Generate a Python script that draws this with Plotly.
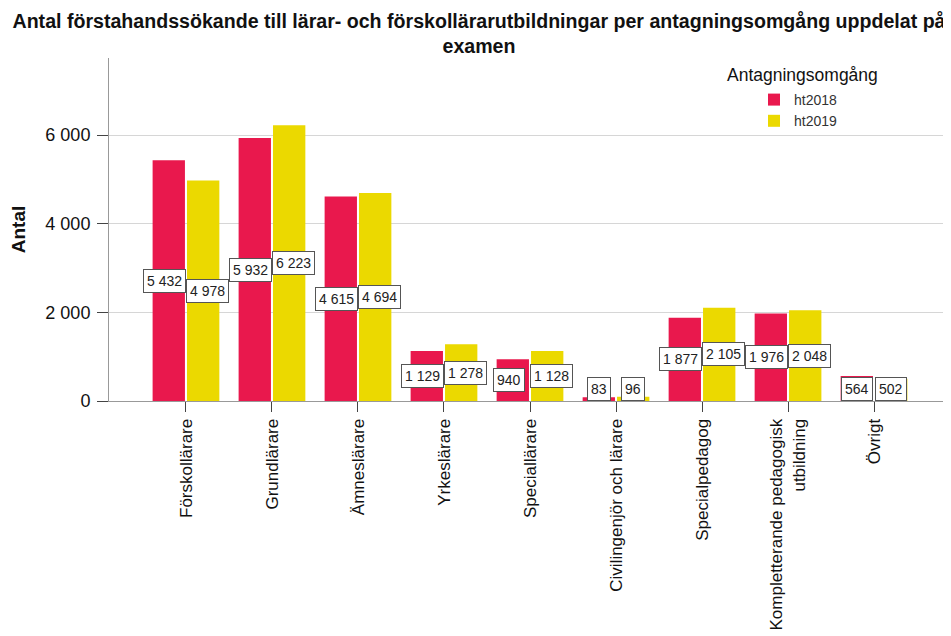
import plotly.graph_objects as go

categories = ["Förskollärare", "Grundlärare", "Ämneslärare", "Yrkeslärare", "Speciallärare",
              "Civilingenjör och lärare", "Specialpedagog",
              "Kompletterande pedagogisk<br>utbildning", "Övrigt"]
ht2018 = [5432, 5932, 4615, 1129, 940, 83, 1877, 1976, 564]
ht2019 = [4978, 6223, 4694, 1278, 1128, 96, 2105, 2048, 502]
series_names = ["ht2018", "ht2019"]
y_ticks = [0, 2000, 4000, 6000]

RED = "#E9184D"
YELLOW = "#EBD900"
FONT = "Liberation Sans, Arial, sans-serif"

# the page body adds an 8px margin, so the figure is drawn 8px smaller;
# reference pixel positions are converted with OFF
OFF = 8
W, H = 951 - OFF, 636 - OFF
PL, PR, PT, PB = 109, 951, 58, 401          # plot area in reference pixels
ML, MR, MT, MB = PL - OFF, 951 - PR, PT - OFF, 636 - PB
BARGAP = 0.2
YMAX = 7740
LABEL_SIZE = 14
LABEL_PAD = 3

plot_h = PB - PT
plot_w = PR - PL

def px_x(x):  # reference pixel -> paper x (plot-area fraction)
    return (x - PL) / plot_w

def px_y(y):  # reference pixel -> paper y
    return 1 - (y - PT) / plot_h

fig = go.Figure()
for name, vals, col in zip(series_names, [ht2018, ht2019], [RED, YELLOW]):
    fig.add_trace(go.Bar(x=categories, y=vals, name=name, marker=dict(color=col, line=dict(width=0))))

def fmt(v):
    return f"{v:,}".replace(",", " ")

def box_w(t):
    return sum(0.278 if c == " " else 0.556 for c in t) * LABEL_SIZE + 2 * LABEL_PAD + 2

unit_px = plot_w / (len(categories) - 1 + 2 * 0.895)
px_per_val = plot_h / YMAX
min_y = 12.5 / px_per_val
slot = (1 - BARGAP) / 2
box_h = LABEL_SIZE * 1.3 + 2 * LABEL_PAD + 2

for i in range(len(categories)):
    a, b = ht2018[i], ht2019[i]
    ya, yb = max(a / 2, min_y), max(b / 2, min_y)
    ta, tb = fmt(a), fmt(b)
    overlap = (box_w(ta) + box_w(tb)) / 2 > slot * unit_px and abs(ya - yb) * px_per_val < box_h
    shift = 4 if overlap else 0
    for off, y, t, s in [(-slot / 2, ya, ta, -shift), (slot / 2, yb, tb, shift)]:
        fig.add_annotation(x=i + off, y=y, xref="x", yref="y", xshift=s,
                           text=t, showarrow=False,
                           font=dict(family=FONT, size=LABEL_SIZE, color="#222"),
                           bgcolor="white", bordercolor="#555", borderwidth=1, borderpad=LABEL_PAD)

# legend title
fig.add_annotation(x=px_x(802.5), y=px_y(75), xref="paper", yref="paper",
                   text="Antagningsomgång", showarrow=False,
                   font=dict(family=FONT, size=17.5, color="#111"),
                   xanchor="center", yanchor="middle")

fig.update_layout(
    width=W, height=H,
    margin=dict(l=ML, r=MR, t=MT, b=MB, autoexpand=False),
    paper_bgcolor="white", plot_bgcolor="white",
    barmode="group", bargap=BARGAP, bargroupgap=0.06,
    separators=", ",
    font=dict(family=FONT, color="#111"),
    title=dict(text="<b>Antal förstahandssökande till lärar- och förskollärarutbildningar per antagningsomgång uppdelat på<br>examen</b>",
               x=(479 - OFF) / W, xanchor="center", xref="container", yref="container",
               y=1 - (27.5 - OFF) / H, yanchor="middle",
               font=dict(family=FONT, size=19.6, color="#111"), automargin=False),
    legend=dict(x=px_x(754), y=px_y(84),
                xanchor="left", yanchor="top",
                font=dict(family=FONT, size=14, color="#333"), bgcolor="rgba(0,0,0,0)",
                itemwidth=30, tracegroupgap=0),
    showlegend=True,
)
fig.update_xaxes(type="category", range=[-0.895, len(categories) - 1 + 0.895], automargin=False,
                 showline=True, linecolor="#999", linewidth=1,
                 ticks="outside", ticklen=10, tickcolor="#444", tickangle=-90,
                 tickfont=dict(family=FONT, size=17, color="#111"), showgrid=False)
fig.update_yaxes(range=[0, YMAX], tickvals=y_ticks, tickformat=",", automargin=False,
                 showline=True, linecolor="#999", linewidth=1,
                 ticks="outside", ticklen=11, tickcolor="#444", ticklabelstandoff=3,
                 tickfont=dict(family=FONT, size=18, color="#111"),
                 showgrid=True, gridcolor="#d6d6d6", gridwidth=1, zeroline=False,
                 title=dict(text="<b>Antal</b>", standoff=15, font=dict(family=FONT, size=19, color="#111")))

fig.write_html("out.html")
